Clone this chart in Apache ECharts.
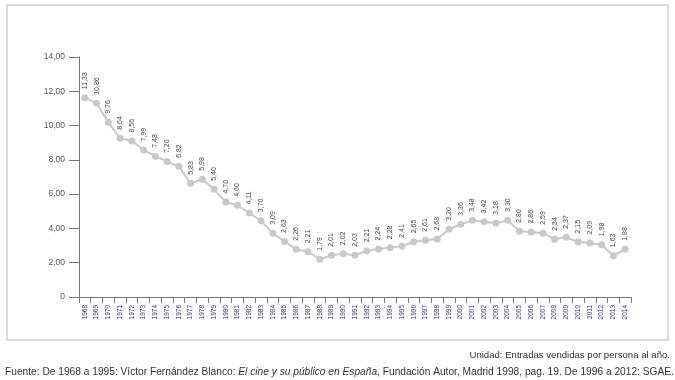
<!DOCTYPE html>
<html><head><meta charset="utf-8">
<script src="https://cdn.jsdelivr.net/npm/echarts@6/dist/echarts.min.js"></script>
<style>html,body{margin:0;padding:0;background:#fff}#c{width:675px;height:380px}</style>
</head><body><div id="c"></div>
<script>
const years = ['1968','1969','1970','1971','1972','1973','1974','1975','1976','1977','1978','1979','1980','1981','1982','1983','1984','1985','1986','1987','1988','1989','1990','1991','1992','1993','1994','1995','1996','1997','1998','1999','2000','2001','2002','2003','2004','2005','2006','2007','2008','2009','2010','2011','2012','2013','2014'];
// plotted positions
const values = [11.63,11.30,10.19,9.26,9.10,8.58,8.21,7.90,7.62,6.63,6.87,6.28,5.54,5.35,4.90,4.45,3.72,3.24,2.79,2.64,2.20,2.43,2.53,2.43,2.70,2.80,2.88,2.96,3.22,3.31,3.38,3.95,4.24,4.47,4.39,4.30,4.47,3.83,3.79,3.72,3.37,3.48,3.21,3.15,3.05,2.41,2.78];
// printed value labels
const valueLabels = ['11,33','10,86','9,76','8,64','8,56','7,99','7,48','7,20','6,82','5,83','5,98','5,40','4,70','4,60','4,11','3,70','3,09','2,63','2,26','2,21','1,79','2,01','2,02','2,03','2,21','2,24','2,28','2,41','2,65','2,61','2,68','3,20','3,36','3,48','3,42','3,18','3,30','2,80','2,86','2,59','2,34','2,37','2,15','2,09','1,98','1,63','1,88'];
const yTicks = [0,2,4,6,8,10,12,14];

const FF = 'Liberation Sans, Arial, sans-serif';
const chart = echarts.init(document.getElementById('c'), null, {renderer:'canvas'});
chart.setOption({
  animation:false,
  textStyle:{fontFamily:FF},
  grid:{left:79,right:44,top:57,bottom:83,containLabel:false},
  xAxis:{
    type:'category', data:years, boundaryGap:true,
    axisLine:{lineStyle:{color:'#777',width:1}},
    axisTick:{show:true,interval:0,length:6,lineStyle:{color:'#777'}},
    axisLabel:{interval:0,rotate:90,fontSize:6.5,color:'#34347c',margin:8}
  },
  yAxis:{
    type:'value', min:yTicks[0], max:yTicks[yTicks.length-1], interval:2,
    axisLine:{show:true,lineStyle:{color:'#777',width:1}},
    axisTick:{show:true,inside:false,length:10,lineStyle:{color:'#777'}},
    splitLine:{show:false},
    axisLabel:{fontSize:8.5,color:'#555',margin:14,
      formatter:v=> v===0 ? '0' : v.toFixed(2).replace('.',',')}
  },
  series:[{
    type:'line', data:values,
    symbol:'circle', symbolSize:7,
    lineStyle:{color:'#c9c9c9',width:2},
    itemStyle:{color:'#c9c9c9'},
    label:{show:true,position:'top',distance:5,rotate:90,align:'left',verticalAlign:'middle',
      fontSize:7,color:'#444',formatter:p=>valueLabels[p.dataIndex]}
  }],
  graphic:[
    {type:'rect',shape:{x:7,y:5,width:661,height:335},style:{fill:'none',stroke:'#cfcfcf',lineWidth:1.5},silent:true},
    {type:'text',right:5,top:350,style:{text:'Unidad: Entradas vendidas por persona al año.',fontSize:9.6,fill:'#333',fontFamily:FF}},
    {type:'text',left:5,top:367,style:{
      text:'Fuente: De 1968 a 1995: Víctor Fernández Blanco: {i|El cine y su público en España}, Fundación Autor, Madrid 1998, pag. 19. De 1996 a 2012: SGAE.',
      fontSize:10.2,fill:'#333',fontFamily:FF,
      rich:{i:{fontStyle:'italic',fontSize:10.2,fill:'#333',fontFamily:FF}}}}
  ]
});
</script></body></html>
